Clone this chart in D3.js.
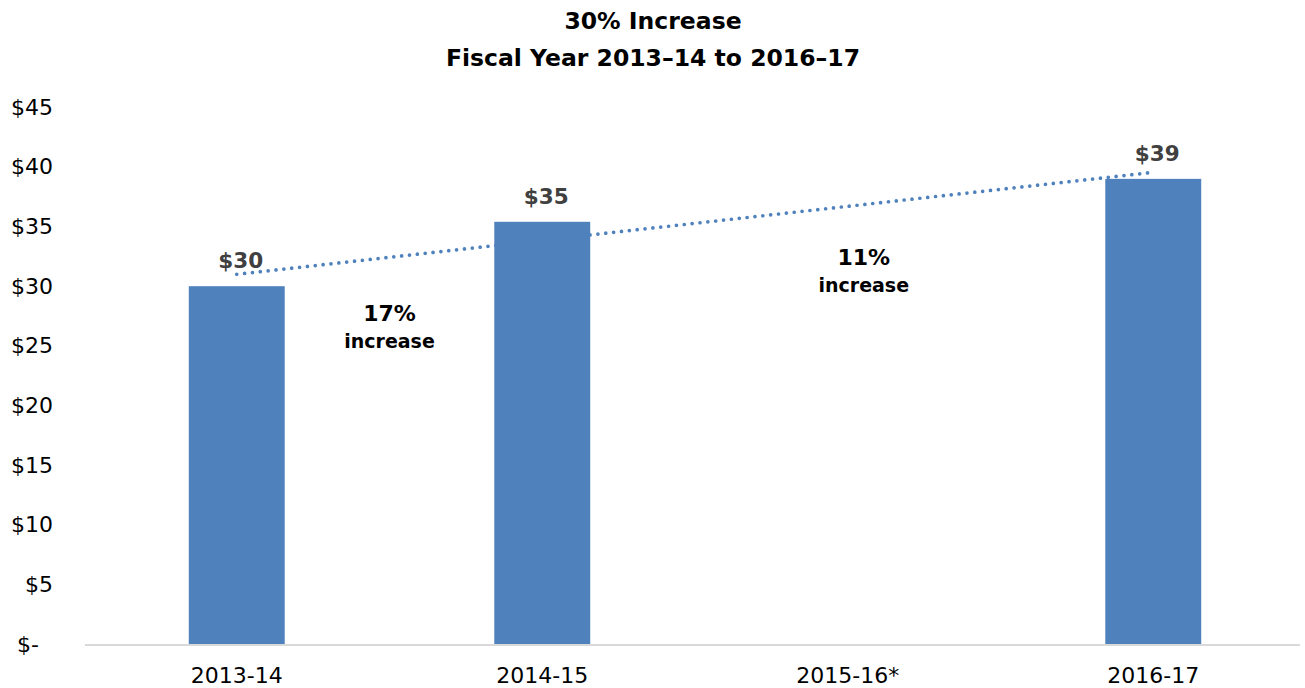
<!DOCTYPE html>
<html>
<head>
<meta charset="utf-8">
<script src="https://cdn.jsdelivr.net/npm/d3@7"></script>
<style>
  body { margin: 0; background: #fff; }
  text { font-family: "DejaVu Sans", sans-serif; }
</style>
</head>
<body>
<svg id="chart" width="1305" height="688"></svg>
<script>
  // chart values
  var years = ["2013-14", "2014-15", "2015-16*", "2016-17"];
  var amounts = [30.0, 35.4, null, 39.0];
  var amountLabels = ["$30", "$35", null, "$39"];
  var trendYears = ["2013-14", "2016-17"];
  var trendValues = [31.0, 39.55];
  var yTicks = [0, 5, 10, 15, 20, 25, 30, 35, 40, 45];
  var titleLines = ["30% Increase", "Fiscal Year 2013\u201314 to 2016\u201317"];
  var notes = [
    {from: "2013-14", to: "2014-15", pct: "17%", word: "increase"},
    {from: "2014-15", to: "2016-17", pct: "11%", word: "increase"}
  ];

  var svg = d3.select("#chart");

  var xScale = d3.scaleBand().domain(years).range([84, 1306])
    .paddingInner(0.686).paddingOuter(0.343);
  var yScale = d3.scaleLinear().domain([0, 45]).range([644, 107.3]);
  var mid = (k) => xScale(k) + xScale.bandwidth() / 2;

  // title
  svg.append("g").selectAll("text")
    .data(titleLines)
    .enter().append("text")
    .attr("x", 653)
    .attr("y", (d, i) => 29 + i * 37)
    .attr("text-anchor", "middle")
    .attr("font-size", "23.5px")
    .attr("font-weight", "bold")
    .attr("fill", "#000")
    .text((d) => d);

  // y axis labels (no line, no ticks)
  var yAxis = d3.axisLeft(yScale)
    .tickValues(yTicks)
    .tickSize(0)
    .tickPadding(0)
    .tickFormat((d) => d === 0 ? "$-\u2007" : "$" + d);
  svg.append("g")
    .attr("transform", "translate(53,0)")
    .call(yAxis)
    .call((g) => g.select(".domain").remove())
    .selectAll("text")
    .attr("font-family", "DejaVu Sans, sans-serif")
    .attr("font-size", "22px")
    .attr("fill", "#000");

  // bars
  var rows = years.map((y, i) => ({year: y, value: amounts[i], label: amountLabels[i]}))
    .filter((d) => d.value !== null);

  svg.append("g").selectAll("rect")
    .data(rows)
    .enter().append("rect")
    .attr("x", (d) => xScale(d.year))
    .attr("y", (d) => yScale(d.value))
    .attr("width", xScale.bandwidth())
    .attr("height", (d) => yScale(0) - yScale(d.value))
    .attr("fill", "#4F81BD");

  // x axis baseline + labels
  var xAxis = d3.axisBottom(xScale).tickSize(0).tickPadding(0);
  svg.append("g")
    .attr("transform", "translate(0," + (yScale(0) + 1) + ")")
    .call(xAxis)
    .call((g) => g.select(".domain")
      .attr("d", "M85,0H1300")
      .attr("stroke", "#D9D9D9")
      .attr("stroke-width", 2))
    .selectAll("text")
    .attr("dy", null)
    .attr("y", 38)
    .attr("font-family", "DejaVu Sans, sans-serif")
    .attr("font-size", "22px")
    .attr("fill", "#000");

  // dotted trend line
  var trend = trendYears.map((y, i) => [mid(y), yScale(trendValues[i])]);
  svg.append("path")
    .attr("d", d3.line()(trend))
    .attr("fill", "none")
    .attr("stroke", "#4F81BD")
    .attr("stroke-width", 3.7)
    .attr("stroke-linecap", "round")
    .attr("stroke-dasharray", "0,7.9");

  // value labels
  svg.append("g").selectAll("text")
    .data(rows)
    .enter().append("text")
    .attr("x", (d) => mid(d.year) + 4)
    .attr("y", (d) => yScale(d.value) - 18)
    .attr("text-anchor", "middle")
    .attr("font-size", "21.5px")
    .attr("font-weight", "bold")
    .attr("fill", "#404040")
    .text((d) => d.label);

  // growth notes
  var noteG = svg.append("g").selectAll("g")
    .data(notes)
    .enter().append("g")
    .attr("transform", (d, i) => {
      var x = (mid(d.from) + mid(d.to)) / 2 + (i === 1 ? 16 : 0);
      var y = i === 0 ? 321 : 265;
      return "translate(" + x + "," + y + ")";
    });
  noteG.append("text")
    .attr("text-anchor", "middle")
    .attr("font-size", "22px")
    .attr("font-weight", "bold")
    .text((d) => d.pct);
  noteG.append("text")
    .attr("text-anchor", "middle")
    .attr("y", 27)
    .attr("font-size", "19px")
    .attr("font-weight", "bold")
    .text((d) => d.word);
</script>
</body>
</html>
